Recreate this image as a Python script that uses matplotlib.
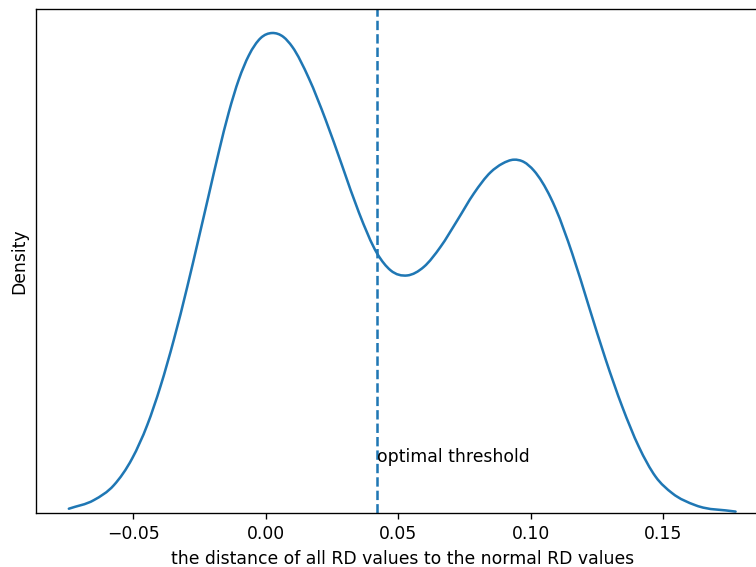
import matplotlib
matplotlib.use("Agg")
import matplotlib.pyplot as plt
from matplotlib.path import Path
from matplotlib.patches import PathPatch

# KDE curve (x: distance, y: density)
dist_x = [-0.07423, -0.06479, -0.05725, -0.05030, -0.04464, -0.03962, -0.03460,
          -0.02955, -0.02517, -0.02140, -0.01762, -0.01385, -0.01008, -0.00630,
          -0.00189, 0.00253, 0.00679, 0.01008, 0.01634, 0.02264, 0.02894,
          0.03521, 0.04215, 0.04717, 0.05347, 0.05974, 0.06604, 0.07234,
          0.07860, 0.08491, 0.08932, 0.09370, 0.09747, 0.10125, 0.10755,
          0.10943, 0.11574, 0.12200, 0.12830, 0.13460, 0.14087, 0.14717,
          0.15347, 0.16226, 0.17736]
density = [0.08, 0.23, 0.49, 0.96, 1.54, 2.22, 3.03,
           3.95, 4.81, 5.56, 6.31, 7.00, 7.57, 7.99,
           8.29, 8.38, 8.31, 8.14, 7.59, 6.87, 6.06,
           5.25, 4.53, 4.24, 4.15, 4.30, 4.65, 5.11,
           5.58, 5.95, 6.10, 6.17, 6.13, 5.98, 5.51,
           5.32, 4.53, 3.61, 2.69, 1.86, 1.16, 0.64,
           0.35, 0.14, 0.03]

threshold = 0.0421
label_y = 0.9
xticks = [-0.05, 0.00, 0.05, 0.10, 0.15]
xticklabels = ["\u22120.05", "0.00", "0.05", "0.10", "0.15"]

plt.rcParams["font.size"] = 10.2

DPI = 121.6
fig = plt.figure(figsize=(756 / DPI, 567 / DPI), dpi=DPI)
ax = fig.add_axes([35.5 / 756, (567 - 513.3) / 567, 733.4 / 756, (513.3 - 9) / 567])


def smooth_path(xs, ys):
    """Cubic Bezier path through the read points (Hermite tangents in x)."""
    n = len(xs)
    h = [xs[i + 1] - xs[i] for i in range(n - 1)]
    d = [(ys[i + 1] - ys[i]) / h[i] for i in range(n - 1)]
    m = [d[0]]
    for i in range(1, n - 1):
        m.append((d[i - 1] * h[i] + d[i] * h[i - 1]) / (h[i - 1] + h[i]))
    m.append(d[-1])
    verts = [(xs[0], ys[0])]
    codes = [Path.MOVETO]
    for i in range(n - 1):
        t = h[i] / 3
        verts += [(xs[i] + t, ys[i] + m[i] * t),
                  (xs[i + 1] - t, ys[i + 1] - m[i + 1] * t),
                  (xs[i + 1], ys[i + 1])]
        codes += [Path.CURVE4] * 3
    return Path(verts, codes)


ax.add_patch(PathPatch(smooth_path(dist_x, density), facecolor="none",
                       edgecolor="C0", linewidth=1.5, capstyle="round",
                       joinstyle="round"))
ax.axvline(threshold, color="C0", linestyle="--", linewidth=1.5)
ax.text(threshold, label_y, "optimal threshold")

ax.set_xlim(-0.08681, 0.18994)
ax.set_ylim(0, max(density) * 1.05)
ax.set_xticks(xticks)
ax.set_xticklabels(xticklabels)
ax.set_yticks([])
ax.set_ylabel("Density")
ax.set_xlabel("the distance of all RD values to the normal RD values")

fig.savefig("out.png", dpi=DPI)
